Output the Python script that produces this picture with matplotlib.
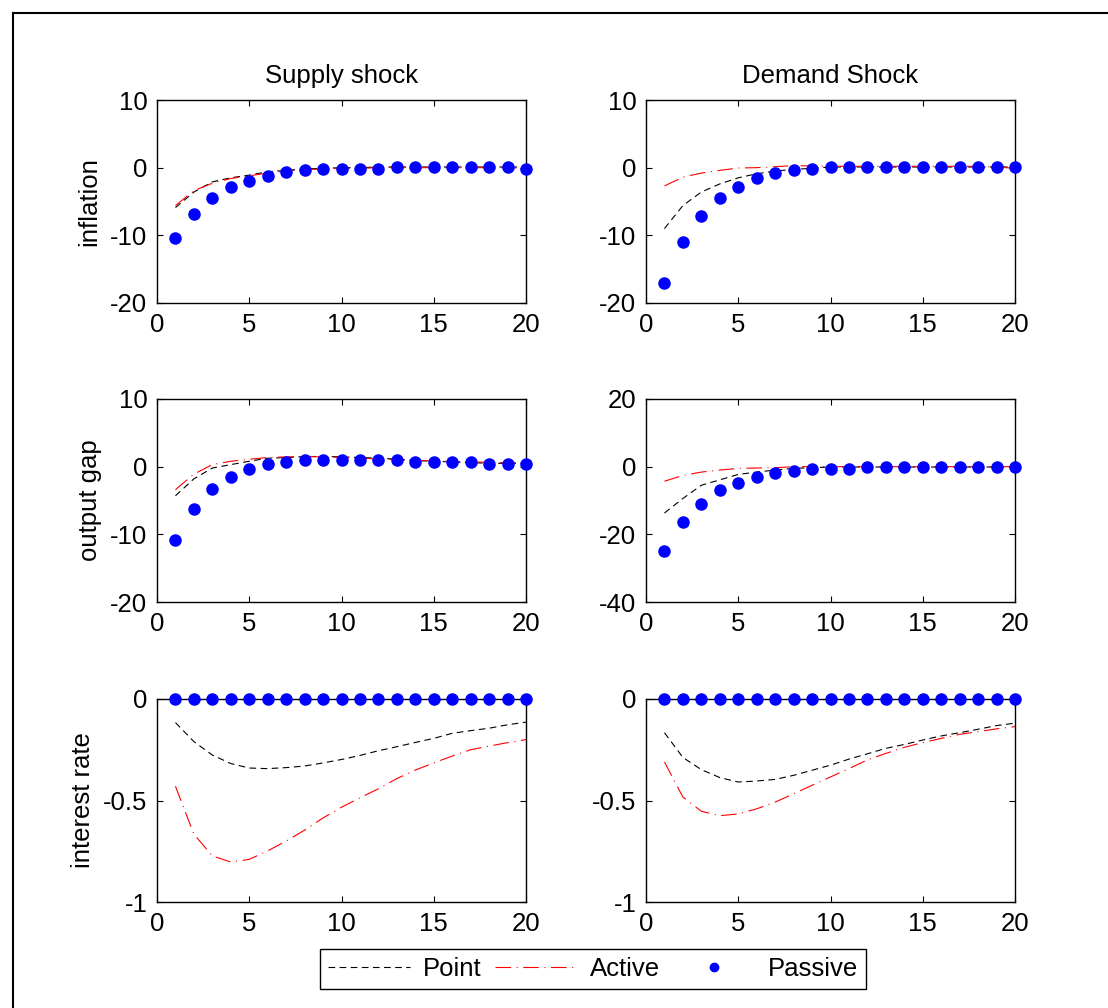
import numpy as np
import matplotlib
matplotlib.use("Agg")
import matplotlib.pyplot as plt
from matplotlib.lines import Line2D

plt.rcParams['font.family'] = ['Liberation Sans', 'DejaVu Sans']

periods = np.arange(1, 21)

# inflation
infl_supply_point = [-5.9, -3.6, -2.1, -1.5, -1.1, -0.6, -0.4, -0.2, -0.1, 0.0,
                     0.0, 0.1, 0.1, 0.1, 0.1, 0.1, 0.1, 0.1, 0.1, 0.1]
infl_supply_active = [-5.6, -3.4, -2.3, -1.6, -1.2, -0.8, -0.5, -0.3, -0.2, -0.1,
                      -0.1, 0.0, 0.0, 0.0, 0.0, 0.0, 0.0, 0.0, 0.0, -0.1]
infl_supply_passive = [-10.4, -6.9, -4.5, -2.8, -2.0, -1.3, -0.7, -0.4, -0.2, -0.2,
                       -0.2, -0.2, 0.1, 0.1, 0.1, 0.1, 0.1, 0.1, 0.1, -0.2]
infl_demand_point = [-9.0, -5.6, -3.6, -2.4, -1.5, -0.9, -0.5, -0.25, -0.1, 0.1,
                     0.1, 0.1, 0.1, 0.1, 0.1, 0.1, 0.1, 0.1, 0.1, 0.1]
infl_demand_active = [-2.7, -1.4, -0.8, -0.4, -0.05, 0.0, 0.15, 0.3, 0.25, 0.2,
                      0.2, 0.2, 0.2, 0.2, 0.2, 0.2, 0.2, 0.2, 0.1, -0.1]
infl_demand_passive = [-17.1, -11.0, -7.2, -4.5, -2.8, -1.6, -0.8, -0.4, -0.2, 0.15,
                       0.15, 0.15, 0.15, 0.15, 0.15, 0.15, 0.15, 0.15, 0.15, 0.15]

# output gap
gap_supply_point = [-4.3, -1.8, -0.2, 0.3, 0.8, 1.25, 1.35, 1.5, 1.5, 1.45,
                    1.35, 1.25, 1.1, 0.9, 0.8, 0.7, 0.6, 0.5, 0.5, 0.5]
gap_supply_active = [-3.4, -1.1, 0.3, 0.8, 1.1, 1.35, 1.45, 1.5, 1.45, 1.35,
                     1.25, 1.15, 1.05, 0.95, 0.85, 0.75, 0.7, 0.65, 0.6, 0.55]
gap_supply_passive = [-10.8, -6.2, -3.3, -1.6, -0.4, 0.4, 0.7, 1.05, 1.05, 1.05,
                      1.0, 1.0, 1.05, 0.7, 0.7, 0.75, 0.75, 0.45, 0.45, 0.45]
gap_demand_point = [-13.7, -9.4, -5.5, -3.9, -2.3, -1.6, -1.0, -0.5, -0.3, -0.1,
                    -0.1, -0.1, -0.1, -0.1, -0.1, -0.1, -0.1, -0.1, -0.1, -0.1]
gap_demand_active = [-4.3, -2.6, -1.6, -1.0, -0.5, -0.4, -0.3, 0.0, 0.0, 0.0,
                     0.0, 0.0, 0.0, 0.0, 0.0, 0.0, 0.0, 0.0, 0.0, 0.0]
gap_demand_passive = [-24.8, -16.3, -11.1, -7.0, -4.8, -3.1, -1.8, -1.35, -0.8, -0.8,
                      -0.8, -0.1, -0.1, -0.1, -0.1, -0.1, -0.1, -0.1, -0.1, -0.1]

# interest rate
rate_supply_point = [-0.116, -0.21, -0.276, -0.318, -0.34, -0.343, -0.338, -0.33, -0.315, -0.298,
                     -0.278, -0.255, -0.235, -0.214, -0.194, -0.169, -0.156, -0.144, -0.127, -0.114]
rate_supply_active = [-0.43, -0.666, -0.773, -0.803, -0.79, -0.748, -0.70, -0.646, -0.586, -0.533,
                      -0.487, -0.442, -0.392, -0.35, -0.315, -0.281, -0.25, -0.232, -0.215, -0.20]
rate_supply_passive = [0.0] * 20
rate_demand_point = [-0.166, -0.288, -0.348, -0.387, -0.409, -0.404, -0.396, -0.376, -0.351, -0.326,
                     -0.296, -0.27, -0.243, -0.224, -0.202, -0.182, -0.166, -0.149, -0.131, -0.119]
rate_demand_active = [-0.31, -0.483, -0.553, -0.575, -0.566, -0.541, -0.508, -0.467, -0.425, -0.384,
                      -0.343, -0.30, -0.268, -0.238, -0.215, -0.194, -0.174, -0.161, -0.147, -0.136]
rate_demand_passive = [0.0] * 20

col_titles = ['Supply shock', 'Demand Shock']
row_labels = ['inflation', 'output gap', 'interest rate']
series = [
    [(infl_supply_point, infl_supply_active, infl_supply_passive),
     (infl_demand_point, infl_demand_active, infl_demand_passive)],
    [(gap_supply_point, gap_supply_active, gap_supply_passive),
     (gap_demand_point, gap_demand_active, gap_demand_passive)],
    [(rate_supply_point, rate_supply_active, rate_supply_passive),
     (rate_demand_point, rate_demand_active, rate_demand_passive)],
]
ylims = [[(-20, 10), (-20, 10)], [(-20, 10), (-40, 20)], [(-1, 0), (-1, 0)]]
yticks = [[[-20, -10, 0, 10], [-20, -10, 0, 10]],
          [[-20, -10, 0, 10], [-40, -20, 0, 20]],
          [[-1, -0.5, 0], [-1, -0.5, 0]]]

fs = 18.5
dash_point = (0, (6, 4))
dash_active = (0, (14, 5, 1, 5))

fig = plt.figure(figsize=(11.08, 10.08), dpi=100)

lefts = [157 / 1108, 646 / 1108]
bottoms = [1 - 303 / 1008, 1 - 602 / 1008, 1 - 902 / 1008]
w = 369 / 1108
h = 203 / 1008

for r in range(3):
    for c in range(2):
        ax = fig.add_axes([lefts[c], bottoms[r], w, h])
        point, active, passive = series[r][c]
        ax.plot(periods, point, color='black', linestyle=dash_point, linewidth=0.8)
        ax.plot(periods, active, color='red', linestyle=dash_active, linewidth=0.8)
        ax.plot(periods, passive, 'o', color='blue', markersize=8, linestyle='none',
                clip_on=False, zorder=5)
        ax.set_xlim(0, 20)
        ax.set_ylim(*ylims[r][c])
        ax.set_xticks([0, 5, 10, 15, 20])
        ax.set_yticks(yticks[r][c])
        ax.set_yticklabels(['%g' % t for t in yticks[r][c]])
        ax.tick_params(direction='in', length=4, width=0.8, labelsize=fs,
                       top=True, right=True)
        ax.tick_params(axis='x', pad=7)
        ax.tick_params(axis='y', pad=7)
        for s in ax.spines.values():
            s.set_linewidth(1.0)
        if r == 0:
            ax.set_title(col_titles[c], fontsize=fs, pad=12)
        if c == 0:
            ax.set_ylabel(row_labels[r], fontsize=fs, labelpad=6)

handles = [
    Line2D([], [], color='black', linestyle=dash_point, linewidth=0.8),
    Line2D([], [], color='red', linestyle=dash_active, linewidth=0.8),
    Line2D([], [], color='blue', marker='o', markersize=6, linestyle='none'),
]
leg = fig.legend(handles, ['Point', 'Active', 'Passive'], loc='center',
                 bbox_to_anchor=(593 / 1108, 1 - 969 / 1008), ncol=3, fontsize=fs,
                 handlelength=3.2, columnspacing=0.5, handletextpad=0.5,
                 fancybox=False, edgecolor='black', framealpha=1, borderpad=0.3)
leg.get_frame().set_linewidth(1.0)

# outer frame
fig.add_artist(Line2D([13 / 1108, 1.0], [1 - 13 / 1008, 1 - 13 / 1008],
                      transform=fig.transFigure, color='black', linewidth=1.5))
fig.add_artist(Line2D([13 / 1108, 13 / 1108], [0.0, 1 - 13 / 1008],
                      transform=fig.transFigure, color='black', linewidth=1.5))

fig.savefig('out.png', dpi=100)
